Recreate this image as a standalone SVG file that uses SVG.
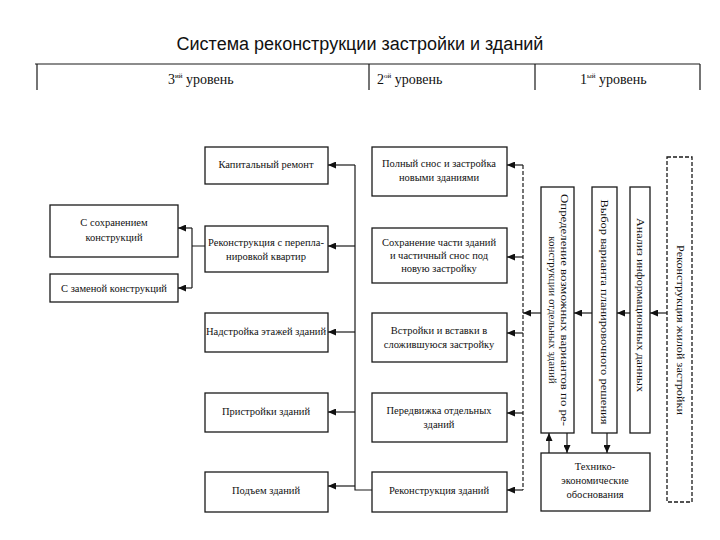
<svg xmlns="http://www.w3.org/2000/svg" width="720" height="540" viewBox="0 0 720 540">
<defs>
<marker id="ah" markerUnits="userSpaceOnUse" markerWidth="8" markerHeight="7" refX="8" refY="3.5" orient="auto">
<path d="M0,0 L8,3.5 L0,7 z" fill="#111"/>
</marker>
<style>
.box{fill:#fff;stroke:#1a1a1a;stroke-width:1.3}
.t{font-family:"Liberation Serif","Times New Roman",serif;font-size:10.5px;fill:#111;text-anchor:middle}
.v{font-family:"Liberation Serif","Times New Roman",serif;font-size:11px;fill:#111;text-anchor:middle}
.h{font-family:"Liberation Serif","Times New Roman",serif;font-size:14px;fill:#111}
.sup{font-size:7px}
.ln{fill:none;stroke:#1a1a1a;stroke-width:1.2}
.ar{fill:none;stroke:#1a1a1a;stroke-width:1.2;marker-end:url(#ah)}
.dash{stroke-dasharray:4 2}
</style>
</defs>
<rect width="720" height="540" fill="#fff"/>
<text x="360" y="50" font-family="Liberation Sans, Arial, sans-serif" font-size="18" fill="#111" text-anchor="middle">Система реконструкции застройки и зданий</text>

<g id="header">
<path class="ln" d="M35,64 H700 M37,64 V90 M369,64 V90 M535,64 V90 M700,64 V90"/>
<text class="h" x="168" y="84">3<tspan class="sup" dy="-6">ий</tspan><tspan dy="6"> уровень</tspan></text>
<text class="h" x="377" y="84">2<tspan class="sup" dy="-6">ой</tspan><tspan dy="6"> уровень</tspan></text>
<text class="h" x="580" y="84">1<tspan class="sup" dy="-6">ый</tspan><tspan dy="6"> уровень</tspan></text>
</g>

<g id="connectors">
<path class="ln" d="M205,246 H192 M192,228 V288"/>
<path class="ar" d="M192,228 H178"/>
<path class="ar" d="M192,288 H178"/>
<path class="ln" d="M372,490 H355 V165"/>
<path class="ar" d="M355,165 H328"/>
<path class="ar" d="M355,246 H328"/>
<path class="ar" d="M355,332 H328"/>
<path class="ar" d="M355,412 H328"/>
<path class="ar" d="M355,486 H328"/>
<path class="ln dash" d="M523,165 V490"/>
<path class="ar" d="M523,165 H507"/>
<path class="ar" d="M523,257 H507"/>
<path class="ar" d="M523,333 H507"/>
<path class="ar" d="M523,413 H507"/>
<path class="ar" d="M523,490 H507"/>
<path class="ar" d="M667,313 H650"/>
<path class="ar" d="M630,313 H617"/>
<path class="ar" d="M592,313 H574"/>
<path class="ar" d="M541,313 H523"/>
<path class="ar" d="M549,453 V433"/>
<path class="ar" d="M567,433 V453"/>
<path class="ar" d="M607,433 V453"/>
</g>

<g id="n-sohr">
<rect class="box" x="50" y="205" width="128" height="52"/>
<text class="t" x="114" y="226">С сохранением</text>
<text class="t" x="114" y="241">конструкций</text>
</g>
<g id="n-zamena">
<rect class="box" x="50" y="274" width="128" height="28"/>
<text class="t" x="114" y="292">С заменой конструкций</text>
</g>

<g id="n-kapremont">
<rect class="box" x="205" y="147" width="123" height="37"/>
<text class="t" x="266" y="168">Капитальный ремонт</text>
</g>
<g id="n-pereplan">
<rect class="box" x="205" y="226" width="123" height="46"/>
<text class="t" x="266" y="246">Реконструкция с перепла-</text>
<text class="t" x="266" y="260">нировкой квартир</text>
</g>
<g id="n-nadstroika">
<rect class="box" x="205" y="313" width="123" height="39"/>
<text class="t" x="266" y="335">Надстройка этажей зданий</text>
</g>
<g id="n-pristroiki">
<rect class="box" x="205" y="393" width="123" height="39"/>
<text class="t" x="266" y="415">Пристройки зданий</text>
</g>
<g id="n-podjem">
<rect class="box" x="205" y="472" width="123" height="40"/>
<text class="t" x="266" y="494">Подъем зданий</text>
</g>

<g id="n-snos">
<rect class="box" x="372" y="147" width="135" height="49"/>
<text class="t" x="439" y="167">Полный снос и застройка</text>
<text class="t" x="439" y="181">новыми зданиями</text>
</g>
<g id="n-sohr-chasti">
<rect class="box" x="372" y="228" width="135" height="55"/>
<text class="t" x="439" y="246">Сохранение части зданий</text>
<text class="t" x="439" y="259">и частичный снос под</text>
<text class="t" x="439" y="272">новую застройку</text>
</g>
<g id="n-vstroiki">
<rect class="box" x="372" y="313" width="135" height="49"/>
<text class="t" x="439" y="334">Встройки и вставки в</text>
<text class="t" x="439" y="348">сложившуюся застройку</text>
</g>
<g id="n-peredvizhka">
<rect class="box" x="372" y="393" width="135" height="49"/>
<text class="t" x="439" y="414">Передвижка отдельных</text>
<text class="t" x="439" y="428">зданий</text>
</g>
<g id="n-rekonstr-zd">
<rect class="box" x="372" y="472" width="135" height="40"/>
<text class="t" x="439" y="494">Реконструкция зданий</text>
</g>

<g id="n-opredelenie">
<rect class="box" x="541" y="187" width="33" height="246"/>
<g transform="translate(561,310) rotate(90)">
<text class="v" x="0" y="0" textLength="232" lengthAdjust="spacingAndGlyphs">Определение возможных вариантов по ре-</text>
<text class="v" x="0" y="12">конструкции отдельных зданий</text>
</g>
</g>
<g id="n-vybor">
<rect class="box" x="592" y="187" width="25" height="246"/>
<text class="v" transform="translate(601,312) rotate(90)" textLength="225" lengthAdjust="spacingAndGlyphs">Выбор варианта планировочного решения</text>
</g>
<g id="n-analiz">
<rect class="box" x="630" y="187" width="20" height="246"/>
<text class="v" transform="translate(637,305) rotate(90)" textLength="174" lengthAdjust="spacingAndGlyphs">Анализ информационных данных</text>
</g>
<g id="n-rekonstr-zhil">
<rect class="box dash" x="667" y="157" width="25" height="345"/>
<text class="v" transform="translate(677,330) rotate(90)" textLength="170" lengthAdjust="spacingAndGlyphs">Реконструкция жилой застройки</text>
</g>
<g id="n-teo">
<rect class="box" x="541" y="453" width="109" height="58"/>
<text class="t" x="595" y="470">Технико-</text>
<text class="t" x="595" y="484">экономические</text>
<text class="t" x="595" y="498">обоснования</text>
</g>
</svg>
